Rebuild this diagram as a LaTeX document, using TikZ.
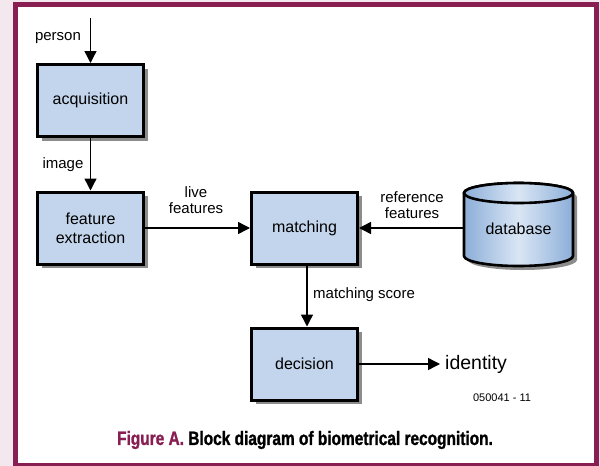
\documentclass[tikz,border=0pt]{standalone}
\usepackage{fontspec}
\setmainfont{Liberation Sans}
\newfontfamily\capfont[FakeStretch=0.8,FakeBold=1.2]{Liberation Sans}
\usetikzlibrary{arrows.meta,shadows,calc}
\definecolor{maroon}{RGB}{136,30,82}
\definecolor{pinkbg}{RGB}{243,232,238}
\definecolor{boxfill}{RGB}{194,213,236}
\definecolor{shadowgray}{RGB}{140,140,140}
\definecolor{dbedge}{RGB}{140,174,216}
\definecolor{dbmid}{RGB}{218,230,245}
\begin{document}
\begin{tikzpicture}[x=1pt,y=-1pt,
  box/.style={draw=black, line width=3pt, fill=boxfill, minimum width=106pt, minimum height=72pt,
    inner sep=0pt, font=\fontsize{16}{19}\selectfont, align=center,
    drop shadow={shadow xshift=4pt, shadow yshift=-4pt, fill=shadowgray, opacity=1}},
  arr/.style={line width=1.4pt, -{Triangle[length=12pt,width=12pt]}},
  lbl/.style={font=\fontsize{15}{15.5}\selectfont, inner sep=0pt, align=center},
  dbline/.style={draw=black, line width=2.6pt, left color=dbedge, right color=dbedge, middle color=dbmid},
]
\useasboundingbox (0,0) rectangle (600,466);
\fill[pinkbg] (0,0) rectangle (600,466);
\draw[maroon, line width=5pt, fill=white] (15,4.2) rectangle (596,465.8);

% boxes
\node[box] (acq) at (90.5,100.5) {acquisition};
\node[box] (fe) at (90.5,228) {feature\\extraction};
\node[box] (match) at (304.5,228) {matching};
\node[box] (dec) at (304.5,364) {decision};

% database cylinder
\begin{scope}[shift={(4,4)}]
\fill[shadowgray] (464,193) -- (464,256) arc[start angle=180,end angle=0,x radius=54.5,y radius=10]
  -- (573,193) arc[start angle=0,end angle=-180,x radius=54.5,y radius=10] -- cycle;
\end{scope}
\path[dbline] (464,193) -- (464,256) arc[start angle=180,end angle=0,x radius=54.5,y radius=10]
  -- (573,193) arc[start angle=0,end angle=-180,x radius=54.5,y radius=10] -- cycle;
\path[dbline] (518.5,193) ellipse[x radius=54.5, y radius=10];
\node[inner sep=0pt, minimum width=109pt, minimum height=84pt, font=\fontsize{16}{19}\selectfont] (db) at (518.5,229) {database};

% labels
\coordinate (pin) at (90.5,18);
\node[lbl] (lperson) at (58,38) {person};
\node[lbl] (limage) at (63,165) {image};
\node[lbl] (llive) at (196,200) {live\\features};
\node[lbl] (lref) at (412,205) {reference\\features};
\node[lbl, anchor=west] (lscore) at (313,295) {matching score};
\node[anchor=west, inner sep=0pt, inner xsep=5pt, font=\fontsize{19.5}{22}\selectfont] (id) at (440,364) {identity};
\node[inner sep=0pt, font=\fontsize{11}{13}\selectfont] (code) at (502,398) {050041 - 11};
\node[inner sep=0pt, font=\fontsize{19.3}{22}\selectfont\capfont\bfseries] (cap) at (305,440)
  {\textcolor{maroon}{Figure A.} Block diagram of biometrical recognition.};

% connectors
\draw[arr] (pin) -- (acq.north);
\draw[arr] (acq.south) -- (fe.north);
\draw[arr] (fe.east) -- (match.west);
\draw[arr] (db.west |- match.east) -- (match.east);
\draw[arr] ($(match.south)+(2.5,0)$) -- ($(dec.north)+(2.5,0)$);
\draw[arr] (dec.east) -- (id.west);
\end{tikzpicture}
\end{document}
